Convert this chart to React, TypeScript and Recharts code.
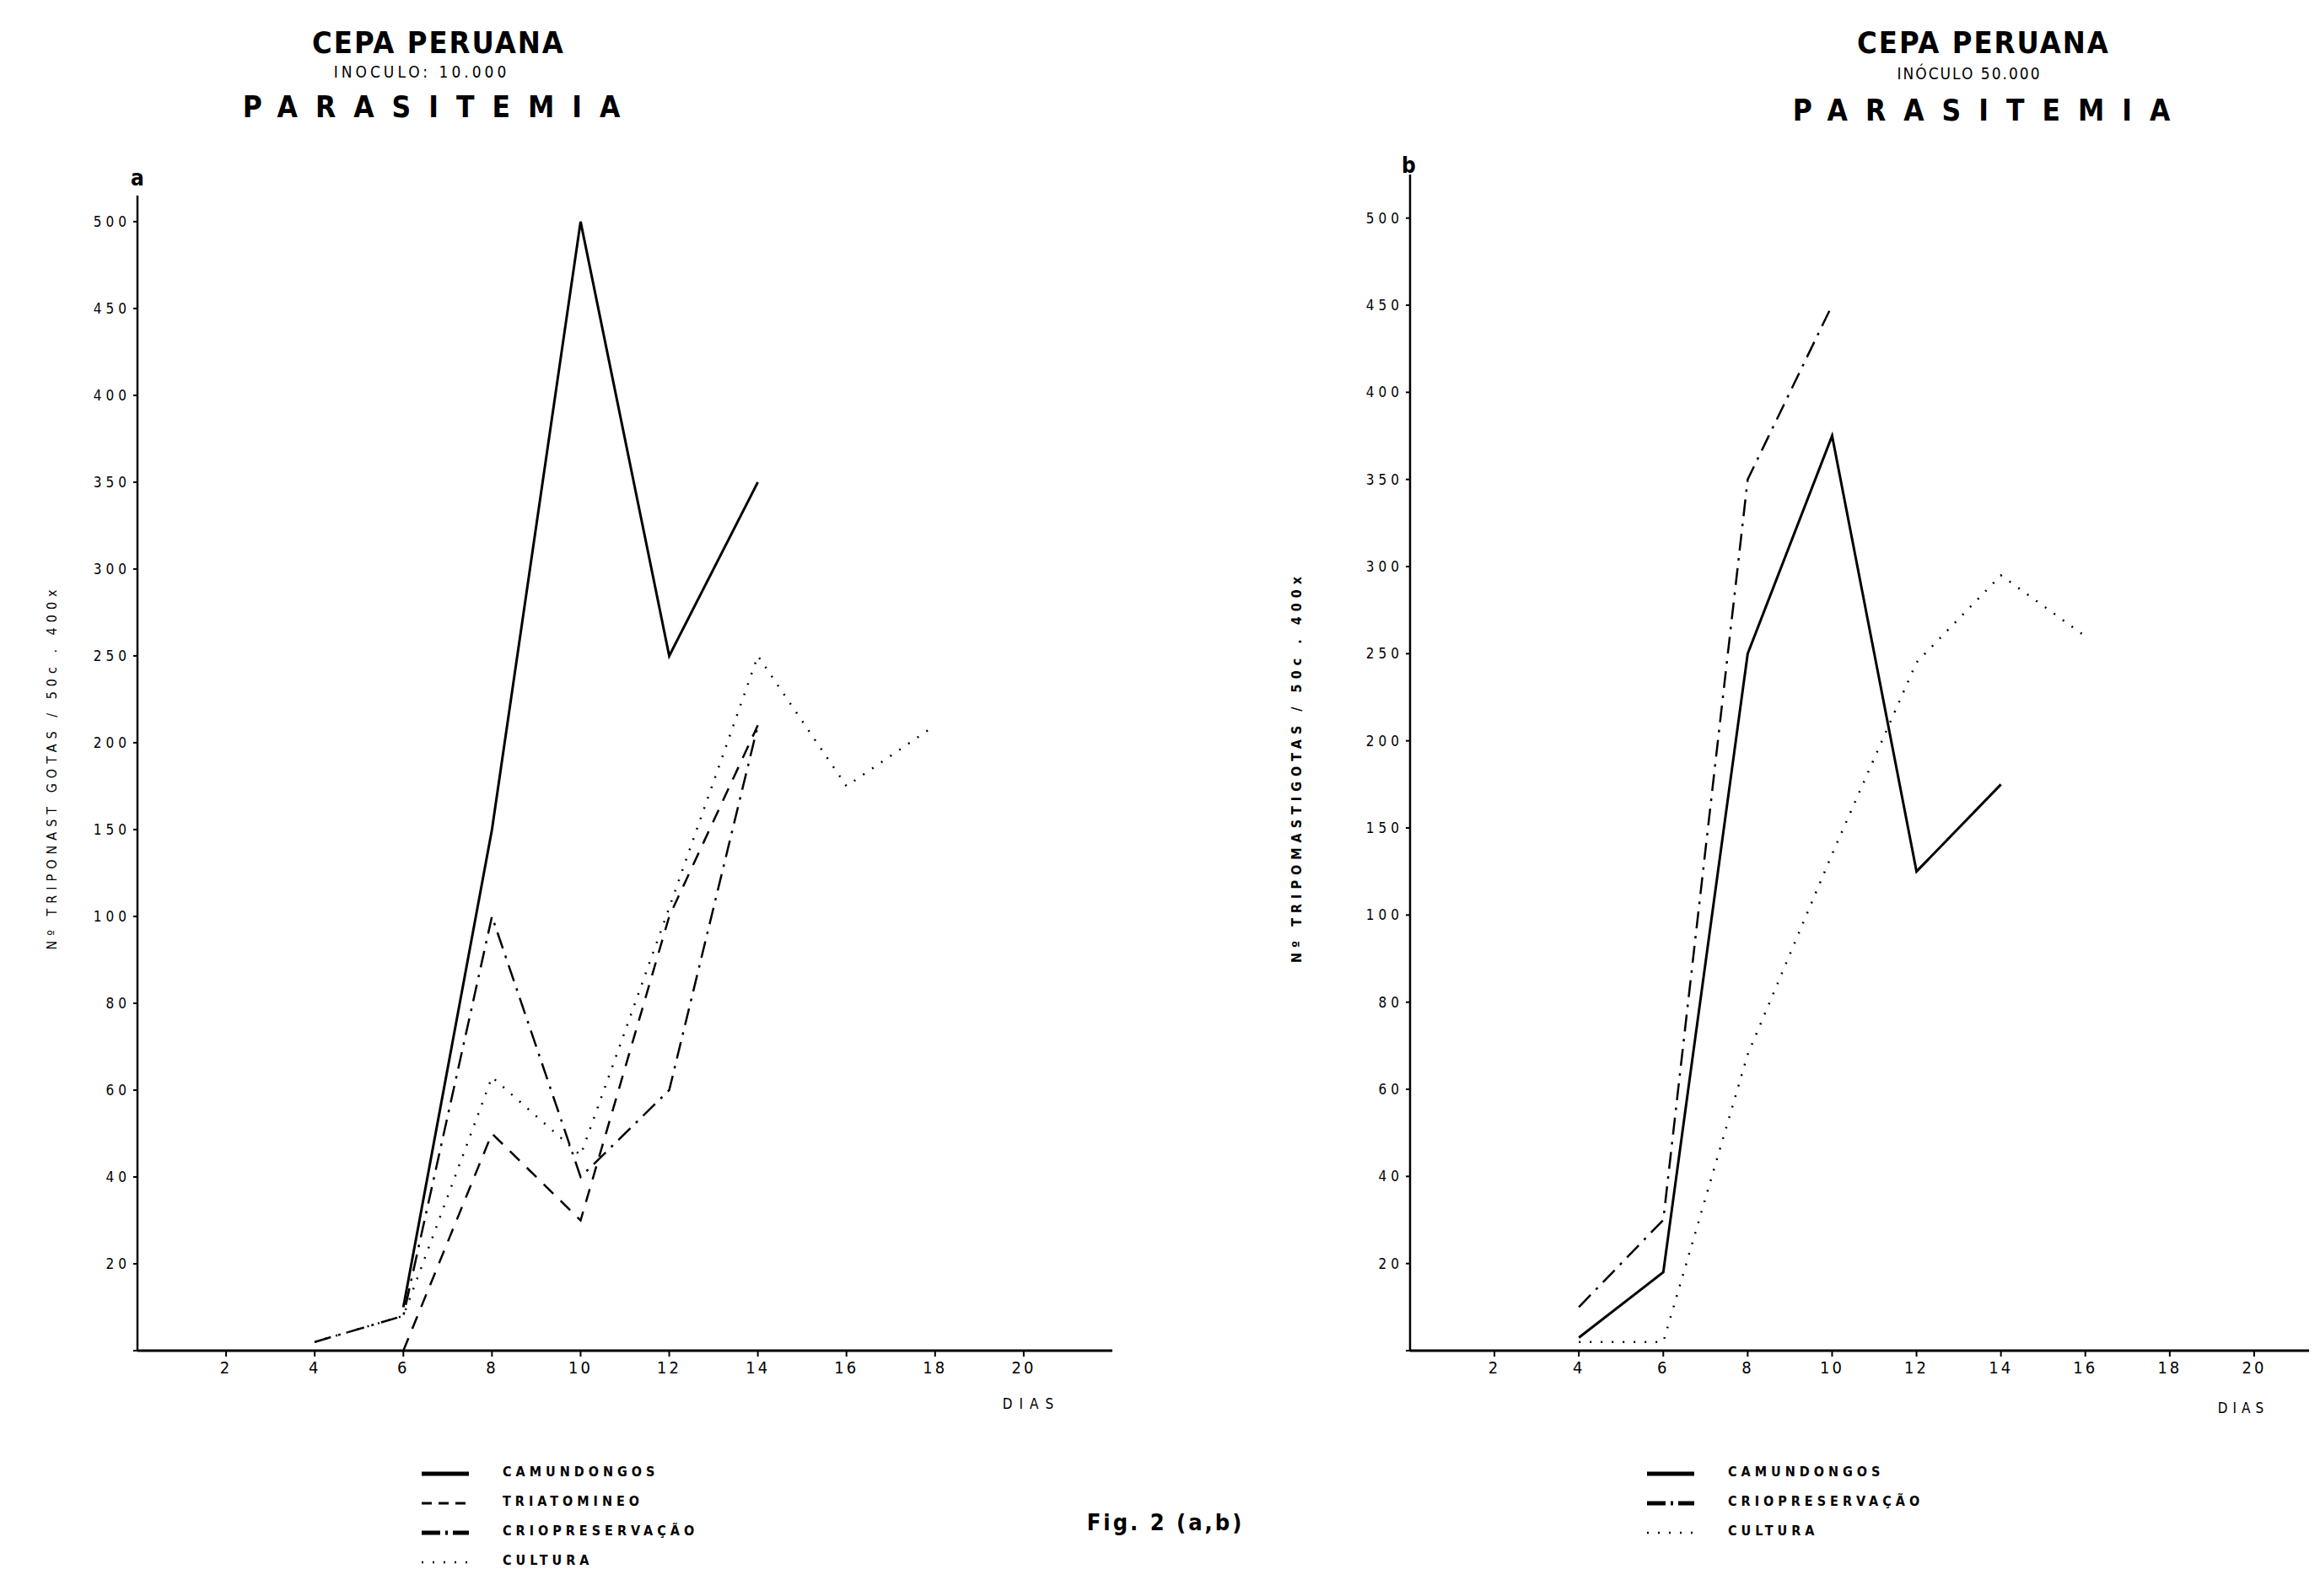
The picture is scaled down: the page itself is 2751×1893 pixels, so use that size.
import { LineChart, Line, XAxis, YAxis } from "recharts";

// dias de observação
const leftDays = [4, 6, 8, 10, 12, 14, 16, 18];
const rightDays = [4, 6, 8, 10, 12, 14, 16];

// a) inóculo 10.000
const leftCamundongos = [null, 10, 150, 500, 250, 350, null, null];
const leftTriatomineo = [null, 0, 50, 30, 100, 210, null, null];
const leftCrio = [2, 8, 100, 40, 60, 210, null, null];
const leftCultura = [2, 8, 63, 45, 105, 250, 175, 210];

// b) inóculo 50.000
const rightCamundongos = [3, 18, 250, 375, 125, 175, null];
const rightCrio = [10, 30, 350, 450, null, null, null];
const rightCultura = [2, 2, 68, 135, 245, 295, 260];

const dayTicks = [2, 4, 6, 8, 10, 12, 14, 16, 18, 20];
const yTickLabels = ["", "20", "40", "60", "80", "100", "150", "200", "250", "300", "350", "400", "450", "500"];
const yTickIdx = yTickLabels.map((_, i) => i);

const FONT = "'DejaVu Sans Condensed', 'Liberation Sans Narrow', 'DejaVu Sans', sans-serif";

// the original axis is stepped: 0..100 by 20, then 100..500 by 50, all equally spaced
const toIdx = (v: number | null) => {
  if (v === null || v === undefined) return null;
  return v <= 100 ? v / 20 : 5 + (v - 100) / 50;
};

const styles: Record<string, { dash?: string; width: number }> = {
  camundongos: { width: 3 },
  triatomineo: { dash: "16 12", width: 2.5 },
  crio: { dash: "20 9 3 9", width: 2.5 },
  cultura: { dash: "2 11", width: 2.5 },
};

const leftRows = leftDays.map((d, i) => ({
  day: d,
  camundongos: leftCamundongos[i],
  triatomineo: leftTriatomineo[i],
  crio: leftCrio[i],
  cultura: leftCultura[i],
}));

const rightRows = rightDays.map((d, i) => ({
  day: d,
  camundongos: rightCamundongos[i],
  crio: rightCrio[i],
  cultura: rightCultura[i],
}));

type Row = Record<string, number | null>;

const Panel = ({
  rows, keys, left, width, yAxisW, top, maxIdx, maxDay,
}: {
  rows: Row[]; keys: string[]; left: number; width: number; yAxisW: number;
  top: number; maxIdx: number; maxDay: number;
}) => (
  <div style={{ position: "absolute", left, top: 0 }}>
    <LineChart width={width} height={1700} data={rows} margin={{ top, right: 12, bottom: 58, left: 0 }}>
      <XAxis
        type="number"
        dataKey="day"
        domain={[0, maxDay]}
        ticks={dayTicks}
        allowDataOverflow
        height={40}
        stroke="#000"
        strokeWidth={3}
        tickSize={7}
        tickLine={{ stroke: "#000", strokeWidth: 2 }}
        tick={{ fontSize: 20, fill: "#000", fontFamily: FONT, letterSpacing: 3 }}
        tickMargin={6}
      />
      <YAxis
        type="number"
        domain={[0, maxIdx]}
        ticks={yTickIdx}
        tickFormatter={(i: number) => yTickLabels[i] ?? ""}
        allowDataOverflow
        width={yAxisW}
        stroke="#000"
        strokeWidth={2.5}
        tickSize={5}
        tickLine={{ stroke: "#000", strokeWidth: 2 }}
        tick={{ fontSize: 17, fill: "#000", fontFamily: FONT, letterSpacing: 5 }}
        tickMargin={3}
      />
      {keys.map((k) => (
        <Line
          key={k}
          type="linear"
          dataKey={(r: Row) => toIdx(r[k])}
          stroke="#000"
          strokeWidth={styles[k].width}
          strokeDasharray={styles[k].dash}
          dot={false}
          connectNulls={false}
          isAnimationActive={false}
        />
      ))}
    </LineChart>
  </div>
);

const Txt = ({ x, y, size, children, spacing = 0, bold = false, anchor = "middle" }: any) => (
  <div
    style={{
      position: "absolute",
      left: anchor === "middle" ? x - 600 : x,
      top: y,
      width: anchor === "middle" ? 1200 : undefined,
      textAlign: anchor === "middle" ? "center" : "left",
      fontSize: size,
      letterSpacing: spacing,
      fontWeight: bold ? 700 : 400,
      fontFamily: FONT,
      lineHeight: 1,
      whiteSpace: "nowrap",
      color: "#000",
    }}
  >
    {children}
  </div>
);

const legendLeft = [
  { key: "camundongos", label: "CAMUNDONGOS" },
  { key: "triatomineo", label: "TRIATOMINEO" },
  { key: "crio", label: "CRIOPRESERVAÇÃO" },
  { key: "cultura", label: "CULTURA" },
];
const legendRight = [
  { key: "camundongos", label: "CAMUNDONGOS" },
  { key: "crio", label: "CRIOPRESERVAÇÃO" },
  { key: "cultura", label: "CULTURA" },
];

const Legend = ({ items, x, y }: { items: { key: string; label: string }[]; x: number; y: number }) => (
  <div style={{ position: "absolute", left: x, top: y }}>
    {items.map((it, i) => (
      <div key={it.key} style={{ position: "absolute", top: i * 35, left: 0, whiteSpace: "nowrap", display: "flex", alignItems: "center" }}>
        <svg width={60} height={16}>
          <line x1={2} y1={10} x2={58} y2={10} stroke="#000"
            strokeWidth={it.key === "cultura" ? 2.5 : it.key === "triatomineo" ? 3 : 5}
            strokeDasharray={it.key === "crio" ? "22 6 3 6" : it.key === "cultura" ? "2 11" : it.key === "triatomineo" ? "12 8" : undefined} />
        </svg>
        <span style={{ marginLeft: 38, fontSize: 16, letterSpacing: 5, fontFamily: FONT, fontWeight: 700 }}>{it.label}</span>
      </div>
    ))}
  </div>
);

export default function App() {
  return (
    <div style={{ position: "absolute", left: 0, top: 0, width: 2751, height: 1893, background: "#fff", overflow: "hidden" }}>
      {/* titles */}
      <Txt x={520} y={33} size={36} spacing={2} bold>CEPA PERUANA</Txt>
      <Txt x={500} y={76} size={19} spacing={4}>INOCULO: 10.000</Txt>
      <Txt x={522} y={110} size={35} spacing={21} bold>PARASITEMIA</Txt>
      <Txt x={2352} y={33} size={36} spacing={2} bold>CEPA PERUANA</Txt>
      <Txt x={2335} y={78} size={19} spacing={2}>INÓCULO 50.000</Txt>
      <Txt x={2360} y={114} size={35} spacing={21} bold>PARASITEMIA</Txt>

      <Txt x={155} y={198} size={26} bold anchor="left">a</Txt>
      <Txt x={1662} y={183} size={26} bold anchor="left">b</Txt>

      <Panel rows={leftRows} keys={["camundongos", "triatomineo", "crio", "cultura"]}
        left={0} width={1331} yAxisW={163} top={232} maxIdx={13.3} maxDay={22} />
      <Panel rows={rightRows} keys={["camundongos", "crio", "cultura"]}
        left={1400} width={1350} yAxisW={272} top={207} maxIdx={13.5} maxDay={21.3} />

      {/* y axis titles */}
      <div style={{ position: "absolute", left: 61, top: 910, transform: "translate(-50%, -50%) rotate(-90deg)", fontSize: 16, letterSpacing: 6, whiteSpace: "nowrap", fontFamily: FONT }}>
        Nº TRIPONAST GOTAS / 50c . 400x
      </div>
      <div style={{ position: "absolute", left: 1537, top: 910, transform: "translate(-50%, -50%) rotate(-90deg)", fontSize: 16, letterSpacing: 6, fontWeight: 700, whiteSpace: "nowrap", fontFamily: FONT }}>
        Nº TRIPOMASTIGOTAS / 50c . 400x
      </div>

      <Txt x={1223} y={1657} size={17} spacing={8}>DIAS</Txt>
      <Txt x={2660} y={1662} size={17} spacing={6}>DIAS</Txt>

      <Legend items={legendLeft} x={498} y={1736} />
      <Legend items={legendRight} x={1951} y={1736} />

      <Txt x={1382} y={1792} size={27} bold spacing={3}>Fig. 2 (a,b)</Txt>
    </div>
  );
}
